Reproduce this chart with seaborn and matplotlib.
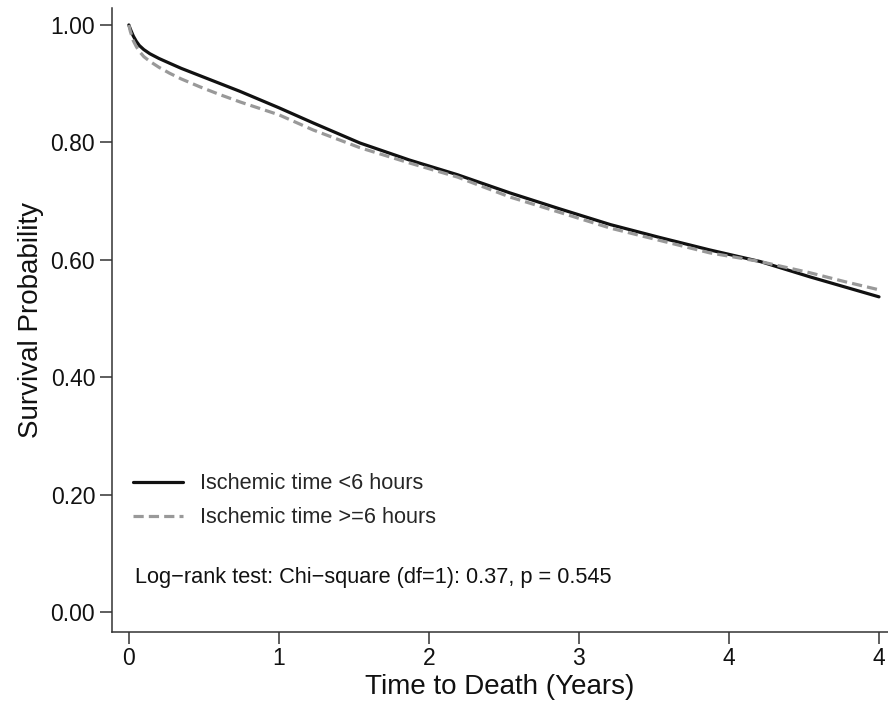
import matplotlib
matplotlib.use("Agg")
import matplotlib.pyplot as plt
import seaborn as sns
import pandas as pd

# survival estimates
years = [0, 0.01, 0.03, 0.05, 0.07, 0.10, 0.14, 0.20, 0.27, 0.35, 0.47, 0.60,
         0.74, 1.0, 1.23, 1.54, 1.87, 2.19, 2.54, 2.87, 3.21, 3.54, 3.87,
         4.21, 4.54, 4.77, 5.0]
surv_lt6 = [1.000, 0.993, 0.981, 0.972, 0.965, 0.958, 0.951, 0.943, 0.935,
            0.926, 0.914, 0.901, 0.887, 0.859, 0.833, 0.799, 0.770, 0.745,
            0.714, 0.687, 0.660, 0.638, 0.617, 0.597, 0.571, 0.554, 0.537]
surv_ge6 = [1.000, 0.989, 0.973, 0.963, 0.955, 0.946, 0.938, 0.928, 0.918,
            0.908, 0.895, 0.882, 0.869, 0.847, 0.821, 0.791, 0.765, 0.741,
            0.707, 0.681, 0.654, 0.633, 0.612, 0.597, 0.578, 0.563, 0.549]
groups = ["Ischemic time <6 hours", "Ischemic time >=6 hours"]
x_ticks = [0, 1, 2, 3, 4, 5]
x_ticklabels = ["0", "1", "2", "3", "4", "4"]
y_ticks = [0.0, 0.2, 0.4, 0.6, 0.8, 1.0]

df = pd.DataFrame({
    "years": years * 2,
    "surv": surv_lt6 + surv_ge6,
    "group": [groups[0]] * len(years) + [groups[1]] * len(years),
})

sns.set_theme(style="ticks")
plt.rcParams["font.family"] = ["Liberation Sans", "DejaVu Sans"]

fig = plt.figure(figsize=(8.88, 7.2), dpi=100)
ax = fig.add_axes([0.126, 0.122, 0.874, 0.867])

sns.lineplot(data=df, x="years", y="surv", hue="group", style="group",
             palette={groups[0]: "#111111", groups[1]: "#999999"},
             dashes={groups[0]: "", groups[1]: (3.2, 1.6)},
             linewidth=2.3, ax=ax, legend=False)

for line, lab in zip(ax.get_lines(), groups):
    line.set_label(lab)
ax.legend(loc="lower left", bbox_to_anchor=(0.002, 0.135), frameon=False,
          fontsize=15.7, handlelength=2.3, handletextpad=0.78, labelspacing=0.6)

ax.text(0.030, 0.088, "Log\u2212rank test: Chi\u2212square (df=1): 0.37, p = 0.545",
        transform=ax.transAxes, fontsize=15.7, va="center", ha="left", color="#111111")

ax.set_xlim(-0.113, 5.06)
ax.set_ylim(-0.034, 1.029)
ax.set_xticks(x_ticks)
ax.set_xticklabels(x_ticklabels)
ax.set_yticks(y_ticks)
ax.set_yticklabels([f"{v:.2f}" for v in y_ticks])
ax.tick_params(axis="both", labelsize=16.5, length=8.5, width=1.1, color="#333333",
               labelcolor="#111111")
ax.tick_params(axis="x", pad=2)
ax.tick_params(axis="y", pad=3.5)
ax.set_xlabel("Time to Death (Years)", fontsize=20, labelpad=3, color="#111111")
ax.set_ylabel("Survival Probability", fontsize=20, labelpad=5, color="#111111")

sns.despine(ax=ax)
for s in ["left", "bottom"]:
    ax.spines[s].set_color("#333333")
    ax.spines[s].set_linewidth(1.1)

fig.savefig("out.png", dpi=100)
